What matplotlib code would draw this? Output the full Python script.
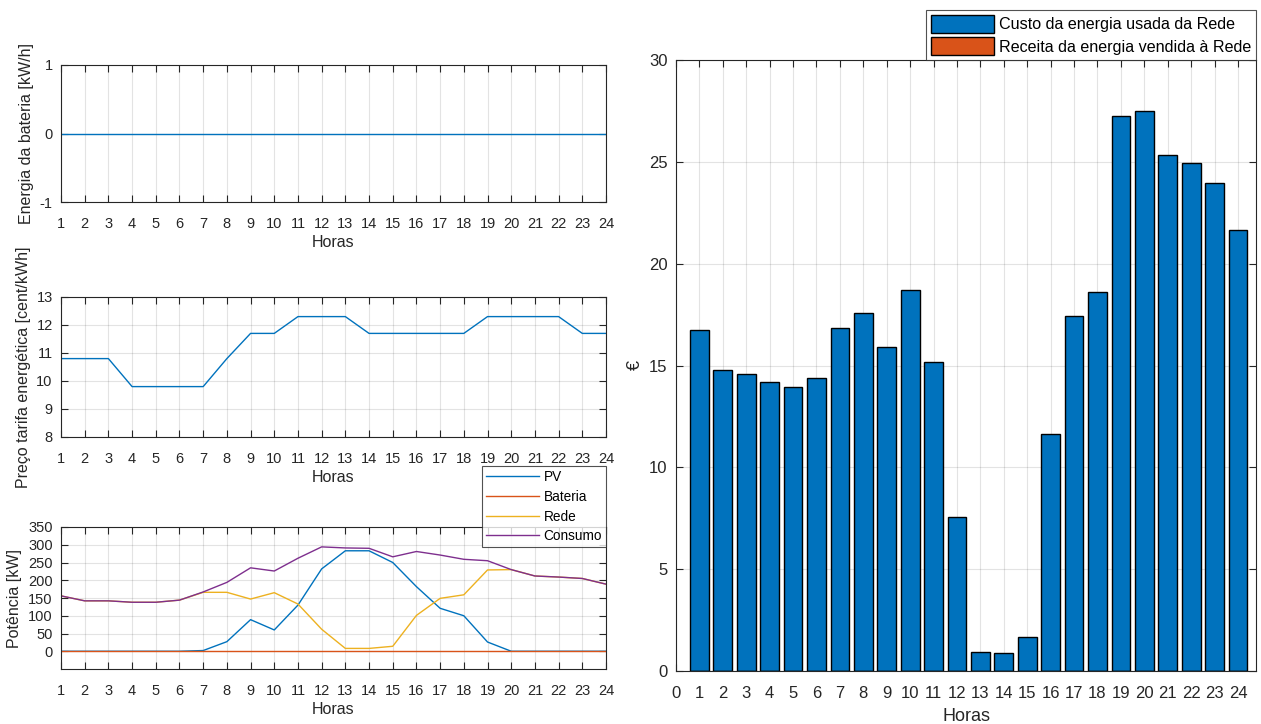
import matplotlib
matplotlib.use("Agg")
import matplotlib.pyplot as plt
import numpy as np

plt.rcParams['font.family'] = ['Liberation Sans', 'DejaVu Sans']
plt.rcParams['axes.unicode_minus'] = False

hours = list(range(1, 25))
battery_energy = [0] * 24
tariff = [10.8, 10.8, 10.8, 9.8, 9.8, 9.8, 9.8, 10.8, 11.7, 11.7, 12.3, 12.3,
          12.3, 11.7, 11.7, 11.7, 11.7, 11.7, 12.3, 12.3, 12.3, 12.3, 11.7, 11.7]
pv = [0, 0, 0, 0, 0, 0, 2, 27, 89, 60, 130, 232, 283, 283, 250, 182, 121, 100, 26, 0, 0, 0, 0, 0]
bateria = [0] * 24
consumo = [156, 142, 142, 138, 138, 144, 167, 194, 235, 226, 262, 294,
           291, 290, 266, 281, 271, 259, 255, 230, 212, 209, 205, 189]
rede = [156, 142, 142, 138, 138, 144, 166, 166, 147, 165, 133, 62,
        8, 8, 14, 101, 149, 159, 229, 230, 212, 209, 205, 189]
custo_rede = [16.72, 14.80, 14.59, 14.20, 13.96, 14.40, 16.85, 17.56, 15.92, 18.69, 15.18, 7.55,
              0.93, 0.87, 1.68, 11.62, 17.42, 18.61, 27.24, 27.52, 25.36, 24.95, 23.94, 21.67]
receita_rede = [0] * 24

AX = '#262626'
C_BLUE = '#0072BD'
C_ORANGE = '#D95319'
C_YELLOW = '#EDB120'
C_PURPLE = '#7E2F8E'

W, H = 1261, 724
fig = plt.figure(figsize=(W / 100, H / 100), dpi=100)


def add_axes_px(x0, y0, x1, y1):
    return fig.add_axes([x0 / W, 1 - y1 / H, (x1 - x0) / W, (y1 - y0) / H])


def style(ax, fs, xpad):
    ax.grid(True, color='#000000', alpha=0.11, linewidth=0.8)
    ax.set_axisbelow(True)
    ax.tick_params(direction='in', top=True, right=True, length=5, width=0.8,
                   colors=AX, labelsize=fs, pad=6)
    ax.tick_params(axis='x', pad=xpad)
    for s in ax.spines.values():
        s.set_color(AX)
        s.set_linewidth(0.8)


# Battery energy
ax1 = add_axes_px(61, 65, 606, 202)
ax1.plot(hours, battery_energy, color=C_BLUE, lw=1.0)
ax1.set_xlim(1, 24)
ax1.set_ylim(-1, 1)
ax1.set_yticks([-1, 0, 1])
ax1.set_xticks(hours)
style(ax1, 10.5, 11)
ax1.set_xlabel('Horas', fontsize=11.5, color=AX, labelpad=3)
ax1.set_ylabel('Energia da bateria [kW/h]', fontsize=11.5, color=AX)

# Energy tariff
ax2 = add_axes_px(61, 297, 606, 437)
ax2.plot(hours, tariff, color=C_BLUE, lw=1.0)
ax2.set_xlim(1, 24)
ax2.set_ylim(8, 13)
ax2.set_yticks(range(8, 14))
ax2.set_xticks(hours)
style(ax2, 10.5, 11)
ax2.set_xlabel('Horas', fontsize=11.5, color=AX, labelpad=3)
ax2.set_ylabel('Preço tarifa energética [cent/kWh]', fontsize=11.5, color=AX)

# Power flows
ax3 = add_axes_px(61, 527, 606, 669)
ax3.plot(hours, pv, color=C_BLUE, lw=1.0, label='PV')
ax3.plot(hours, bateria, color=C_ORANGE, lw=1.0, label='Bateria')
ax3.plot(hours, rede, color=C_YELLOW, lw=1.0, label='Rede')
ax3.plot(hours, consumo, color=C_PURPLE, lw=1.0, label='Consumo')
ax3.set_xlim(1, 24)
ax3.set_ylim(-50, 350)
ax3.set_yticks(range(0, 351, 50))
ax3.set_xticks(hours)
style(ax3, 10.5, 11)
ax3.set_xlabel('Horas', fontsize=11.5, color=AX, labelpad=3)
ax3.set_ylabel('Potência [kW]', fontsize=11.5, color=AX)
leg3 = ax3.legend(loc='upper right', bbox_to_anchor=(1.0, 1 + (527 - 466) / 142),
                  fontsize=9.8, frameon=True, fancybox=False, edgecolor=AX,
                  handlelength=3.9, borderpad=0.3, labelspacing=0.42,
                  handletextpad=0.3, borderaxespad=0)
leg3.get_frame().set_linewidth(0.8)

# Grid cost per hour
ax4 = add_axes_px(676, 60, 1256, 671)
ax4.bar(hours, custo_rede, width=0.8, color=C_BLUE, edgecolor='black', linewidth=1.0,
        label='Custo da energia usada da Rede')
ax4.bar(hours, receita_rede, width=0.8, color=C_ORANGE, edgecolor='black', linewidth=1.0,
        label='Receita da energia vendida à Rede')
ax4.set_xlim(0, 24.77)
ax4.set_ylim(0, 30)
ax4.set_xticks(range(0, 25))
ax4.set_yticks(range(0, 31, 5))
style(ax4, 12, 11)
ax4.set_xlabel('Horas', fontsize=13, color=AX, labelpad=5)
ax4.set_ylabel('€', fontsize=13, color=AX)
leg4 = ax4.legend(loc='lower right', bbox_to_anchor=(1.0, 1.0),
                  fontsize=11.6, frameon=True, fancybox=False, edgecolor=AX,
                  handlelength=3.9, handleheight=1.35, borderpad=0.3, labelspacing=0.25,
                  handletextpad=0.3, borderaxespad=0)
leg4.get_frame().set_linewidth(0.8)

fig.savefig('out.png', dpi=100, facecolor='white')
